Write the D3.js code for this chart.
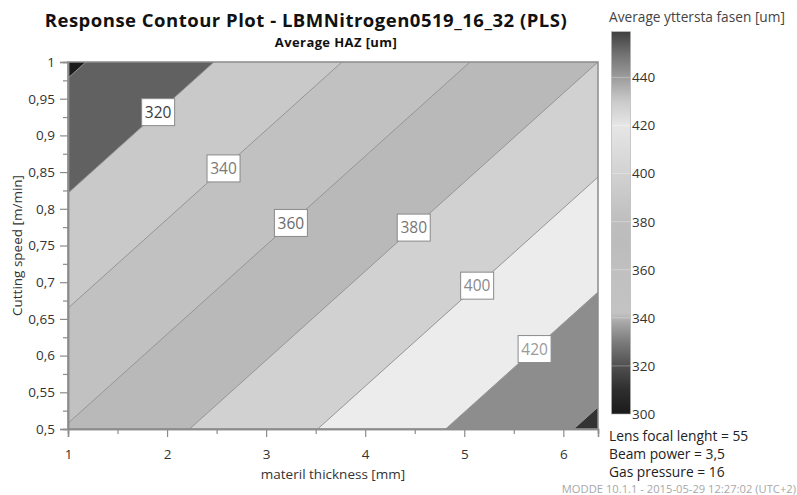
<!DOCTYPE html>
<html>
<head>
<meta charset="utf-8">
<script src="https://cdn.jsdelivr.net/npm/d3@7"></script>
<style>
  html, body { margin: 0; padding: 0; background: #fff; }
  svg { display: block; font-family: "Open Sans", "Noto Sans", sans-serif; }
</style>
</head>
<body>
<svg id="chart" width="797" height="495"></svg>
<script>
// Factor ranges of the design region
const thicknessRange = [1, 6.35];   // materil thickness [mm]
const speedRange = [0.5, 1];        // cutting speed [m/min]

// Predicted response (Average yttersta fasen, um) at the corners of the region.
// Row 0: speed = 1, row 1: speed = 0.5; column 0: thickness = 1, column 1: thickness = 6.35
const cornerResponse = [
  [297.2, 380.0],
  [361.0, 443.8]
];

const contourLevels = [300, 320, 340, 360, 380, 400, 420, 440];
// fill below the first level, then one fill for each band above each level
const bandFills = ["#1b1b1b", "#616161", "#c9c9c9", "#c1c1c1", "#b9b9b9", "#d1d1d1", "#ececec", "#8d8d8d", "#333333"];

const labelLevels = [320, 340, 360, 380, 400, 420];
const labelThickness = [1.91, 2.57, 3.25, 4.49, 5.13, 5.71];
const labelTextColors = ["#3c3c3c", "#7a7a7a", "#6a6a6a", "#777777", "#8a8a8a", "#9a9a9a"];

const xTicks = [1, 2, 3, 4, 5, 6];
const xMinorTicks = [1.5, 2.5, 3.5, 4.5, 5.5];
const yTicks = [0.5, 0.55, 0.6, 0.65, 0.7, 0.75, 0.8, 0.85, 0.9, 0.95, 1];
const yMinorTicks = [0.525, 0.575, 0.625, 0.675, 0.725, 0.775, 0.825, 0.875, 0.925, 0.975];

const colorbarRange = [300, 459];
const colorbarTicks = [300, 320, 340, 360, 380, 400, 420, 440];
const colorbarStopValues = [300, 310, 320, 330, 338, 342, 360, 370, 380, 390, 400, 410, 420, 430, 440, 450, 459];
const colorbarStopGrays = ["#1a1a1a", "#2e2e2e", "#505050", "#7c7c7c", "#a6a6a6", "#c3c3c3", "#c0c0c0", "#bcbcbc", "#bebebe", "#c8c8c8", "#d2d2d2", "#dcdcdc", "#e6e6e6", "#cacaca", "#9c9c9c", "#707070", "#404040"];

const titleText = "Response Contour Plot - LBMNitrogen0519_16_32 (PLS)";
const subtitleText = "Average HAZ [um]";
const colorbarTitle = "Average yttersta fasen [um]";
const xLabel = "materil thickness [mm]";
const yLabel = "Cutting speed [m/min]";
const factorNotes = ["Lens focal lenght = 55", "Beam power = 3,5", "Gas pressure = 16"];
const footerText = "MODDE 10.1.1 - 2015-05-29 12:27:02 (UTC+2)";

// ---- layout ----
const plot = { left: 68, right: 598, top: 62, bottom: 429 };
const svg = d3.select("#chart");
const locale = d3.formatLocale({ decimal: ",", thousands: " ", grouping: [3], currency: ["", ""] });
const fmt = locale.format(".3~f");

const x = d3.scaleLinear().domain(thicknessRange).range([plot.left, plot.right]);
const y = d3.scaleLinear().domain(speedRange).range([plot.bottom, plot.top]);

// grid coordinates of d3.contours: sample centres sit at 0.5 and 1.5
const gx = d3.scaleLinear().domain([0.5, 1.5]).range([x(thicknessRange[0]), x(thicknessRange[1])]);
const gy = d3.scaleLinear().domain([0.5, 1.5]).range([y(speedRange[1]), y(speedRange[0])]);
const gridPath = d3.geoPath(d3.geoTransform({
  point(px, py) { this.stream.point(gx(px), gy(py)); }
}));

const contours = d3.contours()
  .size([2, 2])
  .smooth(true)
  .thresholds(contourLevels)(cornerResponse.flat());

svg.append("defs").append("clipPath").attr("id", "plotClip")
  .append("rect")
  .attr("x", plot.left).attr("y", plot.top)
  .attr("width", plot.right - plot.left).attr("height", plot.bottom - plot.top);

const area = svg.append("g").attr("clip-path", "url(#plotClip)");
area.append("rect")
  .attr("x", plot.left).attr("y", plot.top)
  .attr("width", plot.right - plot.left).attr("height", plot.bottom - plot.top)
  .attr("fill", bandFills[0]);

area.selectAll("path.band")
  .data(contours)
  .join("path")
  .attr("class", "band")
  .attr("d", gridPath)
  .attr("fill", (d, i) => bandFills[i + 1]);

area.selectAll("path.line")
  .data(contours)
  .join("path")
  .attr("class", "line")
  .attr("d", gridPath)
  .attr("fill", "none")
  .attr("stroke", "#959595")
  .attr("stroke-width", 1);

// plot frame
svg.append("rect")
  .attr("x", plot.left).attr("y", plot.top)
  .attr("width", plot.right - plot.left).attr("height", plot.bottom - plot.top)
  .attr("fill", "none").attr("stroke", "#8c8c8c").attr("stroke-width", 1.5);

// ---- axes ----
const axisColor = "#8c8c8c";
const textColor = "#333";
const baseSize = "13.5px";

const xAxis = svg.append("g").attr("transform", `translate(0,${plot.bottom})`)
  .call(d3.axisBottom(x).tickValues(xTicks).tickFormat(fmt).tickSize(8).tickPadding(12));
const xMinor = svg.append("g").attr("transform", `translate(0,${plot.bottom})`)
  .call(d3.axisBottom(x).tickValues(xMinorTicks).tickFormat("").tickSize(5));
const yAxis = svg.append("g").attr("transform", `translate(${plot.left},0)`)
  .call(d3.axisLeft(y).tickValues(yTicks).tickFormat(fmt).tickSize(8).tickPadding(5));
const yMinor = svg.append("g").attr("transform", `translate(${plot.left},0)`)
  .call(d3.axisLeft(y).tickValues(yMinorTicks).tickFormat("").tickSize(5));

[xAxis, xMinor, yAxis, yMinor].forEach(g => {
  g.select(".domain").attr("stroke", axisColor).attr("stroke-width", 1.5);
  g.selectAll(".tick line").attr("stroke", axisColor).attr("stroke-width", 1.2);
  g.selectAll(".tick text").attr("fill", textColor)
    .style("font-family", "'Open Sans', 'Noto Sans', sans-serif").style("font-size", baseSize);
});

svg.append("text")
  .attr("x", (plot.left + plot.right) / 2).attr("y", 479)
  .attr("text-anchor", "middle").attr("fill", textColor)
  .style("font-size", baseSize).text(xLabel);

svg.append("text")
  .attr("transform", `translate(22,${(plot.top + plot.bottom) / 2}) rotate(-90)`)
  .attr("text-anchor", "middle").attr("fill", textColor)
  .style("font-size", baseSize).text(yLabel);

// ---- titles ----
svg.append("text")
  .attr("x", 306).attr("y", 27)
  .attr("text-anchor", "middle").attr("fill", "#111")
  .style("font-size", "18.5px").style("font-weight", "bold")
  .style("letter-spacing", "0.5px").text(titleText);

svg.append("text")
  .attr("x", 336).attr("y", 47)
  .attr("text-anchor", "middle").attr("fill", "#111")
  .style("font-size", "13px").style("font-weight", "bold")
  .style("letter-spacing", "0.4px").text(subtitleText);

// ---- contour labels ----
const labels = svg.append("g");
labelLevels.forEach((level, i) => {
  const t = labelThickness[i];
  const s = (t - thicknessRange[0]) / (thicknessRange[1] - thicknessRange[0]);
  const zTop = d3.interpolateNumber(cornerResponse[0][0], cornerResponse[0][1])(s);
  const zBottom = d3.interpolateNumber(cornerResponse[1][0], cornerResponse[1][1])(s);
  const speed = d3.scaleLinear().domain([zTop, zBottom]).range([speedRange[1], speedRange[0]])(level);
  const cx = x(t), cy = y(speed);
  const g = labels.append("g").attr("transform", `translate(${cx},${cy})`);
  g.append("rect")
    .attr("x", -16.5).attr("y", -13.5).attr("width", 33).attr("height", 27)
    .attr("fill", "#fff").attr("stroke", "#8a8a8a").attr("stroke-width", 1);
  g.append("text")
    .attr("text-anchor", "middle").attr("dy", "0.36em")
    .attr("fill", labelTextColors[i])
    .style("font-size", "15.5px").text(level);
});

// ---- colour bar ----
const cb = { left: 611.5, width: 19, top: 31.7, bottom: 414 };
const cbY = d3.scaleLinear().domain(colorbarRange).range([cb.bottom, cb.top]);
const grad = svg.select("defs").append("linearGradient")
  .attr("id", "cbGrad").attr("x1", 0).attr("y1", 1).attr("x2", 0).attr("y2", 0);
colorbarStopValues.forEach((v, i) => {
  grad.append("stop")
    .attr("offset", (v - colorbarRange[0]) / (colorbarRange[1] - colorbarRange[0]))
    .attr("stop-color", colorbarStopGrays[i]);
});
svg.append("rect")
  .attr("x", cb.left).attr("y", cb.top)
  .attr("width", cb.width).attr("height", cb.bottom - cb.top)
  .attr("fill", "url(#cbGrad)").attr("stroke", "#b0b0b0").attr("stroke-width", 0.6);

svg.append("g").selectAll("line")
  .data(colorbarTicks.slice(1))
  .join("line")
  .attr("x1", cb.left).attr("x2", cb.left + cb.width)
  .attr("y1", d => cbY(d)).attr("y2", d => cbY(d))
  .attr("stroke", "#fff").attr("stroke-opacity", 0.3).attr("stroke-width", 1);

svg.append("g").selectAll("text")
  .data(colorbarTicks)
  .join("text")
  .attr("x", cb.left + cb.width + 1.5)
  .attr("y", d => cbY(d)).attr("dy", "0.36em")
  .attr("fill", textColor).style("font-size", baseSize)
  .text(d => d);

svg.append("text")
  .attr("x", 609).attr("y", 22)
  .attr("fill", "#444").style("font-size", "13.7px").text(colorbarTitle);

// ---- factor settings and footer ----
svg.append("g").selectAll("text")
  .data(factorNotes)
  .join("text")
  .attr("x", 609).attr("y", (d, i) => 441 + i * 18)
  .attr("fill", "#222").style("font-size", "13.8px")
  .text(d => d);

svg.append("text")
  .attr("x", 796).attr("y", 492.5)
  .attr("text-anchor", "end").attr("fill", "#a8a8a8")
  .style("font-size", "11.2px").text(footerText);
</script>
</body>
</html>
